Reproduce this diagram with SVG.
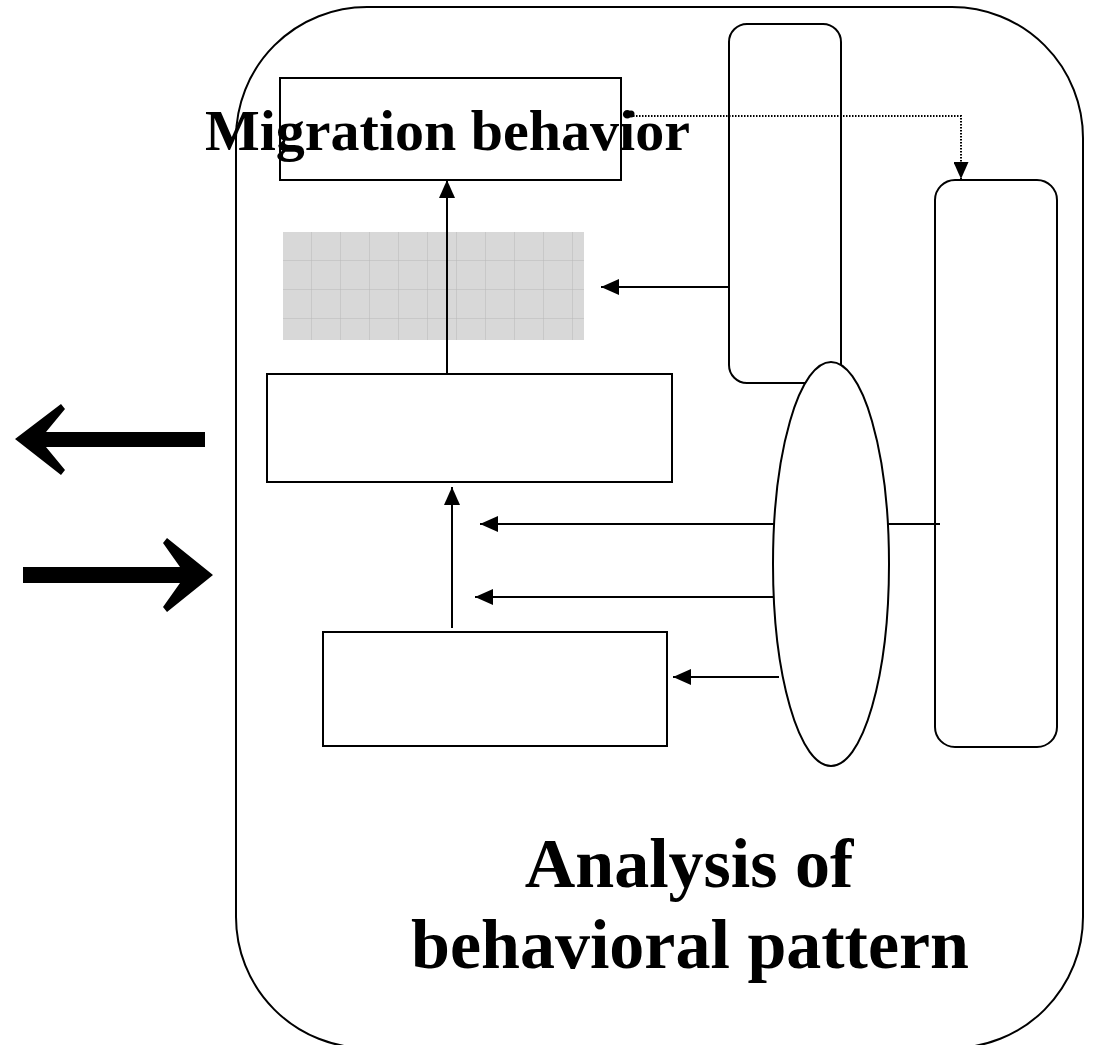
<svg xmlns="http://www.w3.org/2000/svg" width="1094" height="1045" viewBox="0 0 1094 1045">
  <defs>
    <style>
      .shape { fill: #ffffff; stroke: #000000; stroke-width: 2; }
      .link { fill: none; stroke: #000000; stroke-width: 2; }
      .dotted { fill: none; stroke: #000000; stroke-width: 2; stroke-dasharray: 1.5 1.5; }
      .label { font-family: "Liberation Serif", "Times New Roman", serif; font-weight: bold; fill: #000000; }
      .grid { stroke: #b8b8b8; stroke-width: 1; }
    </style>
    <marker id="arrow" viewBox="0 0 18 16" refX="18" refY="8" markerWidth="18" markerHeight="16" markerUnits="userSpaceOnUse" orient="auto">
      <path d="M0,0 L18,8 L0,16 Z" fill="#000000"/>
    </marker>
    <marker id="arrowSmall" viewBox="0 0 17 15" refX="17" refY="7.5" markerWidth="17" markerHeight="15" markerUnits="userSpaceOnUse" orient="auto">
      <path d="M0,0 L17,7.5 L0,15 Z" fill="#000000"/>
    </marker>
    <pattern id="cells" x="283" y="232" width="29" height="29" patternUnits="userSpaceOnUse">
      <rect width="29" height="29" fill="#d8d8d8"/>
      <path d="M29,0 V29 M0,29 H29" class="grid" fill="none"/>
    </pattern>
  </defs>

  <!-- container: behavioral pattern analysis -->
  <g id="container">
    <rect class="shape" x="236" y="7" width="847" height="1041" rx="131" ry="131"/>
    <text class="label" x="689" y="887" font-size="70" text-anchor="middle">Analysis of</text>
    <text class="label" x="690" y="968" font-size="70" text-anchor="middle">behavioral pattern</text>
  </g>

  <g id="migration-box">
    <rect class="shape" x="280" y="78" width="341" height="102"/>
  </g>

  <g id="grid-panel">
    <rect x="283" y="232" width="301" height="108" fill="url(#cells)"/>
  </g>

  <g id="middle-box">
    <rect class="shape" x="267" y="374" width="405" height="108"/>
  </g>

  <g id="lower-box">
    <rect class="shape" x="323" y="632" width="344" height="114"/>
  </g>

  <g id="upper-column">
    <rect class="shape" x="729" y="24" width="112" height="359" rx="18" ry="18"/>
  </g>

  <g id="right-column">
    <rect class="shape" x="935" y="180" width="122" height="567" rx="20" ry="20"/>
  </g>

  <g id="ellipse-node">
    <ellipse class="shape" cx="831" cy="564" rx="58" ry="202"/>
  </g>

  <!-- connectors -->
  <g id="connectors">
    <line class="link" x1="447" y1="374" x2="447" y2="180" marker-end="url(#arrow)"/>
    <line class="link" x1="452" y1="628" x2="452" y2="487" marker-end="url(#arrow)"/>
    <line class="link" x1="729" y1="287" x2="601" y2="287" marker-end="url(#arrow)"/>
    <line class="link" x1="774" y1="524" x2="480" y2="524" marker-end="url(#arrow)"/>
    <line class="link" x1="773" y1="597" x2="475" y2="597" marker-end="url(#arrow)"/>
    <line class="link" x1="779" y1="677" x2="673" y2="677" marker-end="url(#arrow)"/>
    <line class="link" x1="888" y1="524" x2="940" y2="524"/>
    <circle cx="631" cy="114" r="3.5" fill="#000000"/>
    <polyline class="dotted" points="633,116 961,116 961,179" marker-end="url(#arrowSmall)"/>
    <!-- outward and inward block arrows -->
    <polygon points="15,439 61,404 65,409 46,432 205,432 205,447 46,447 65,470 61,475" fill="#000000"/>
    <polygon points="23,567 180,567 163,543 167,538 213,575 167,612 163,607 180,583 23,583" fill="#000000"/>
  </g>

  <!-- title drawn over its box -->
  <text class="label" x="205" y="150" font-size="58">Migration behavior</text>
</svg>
